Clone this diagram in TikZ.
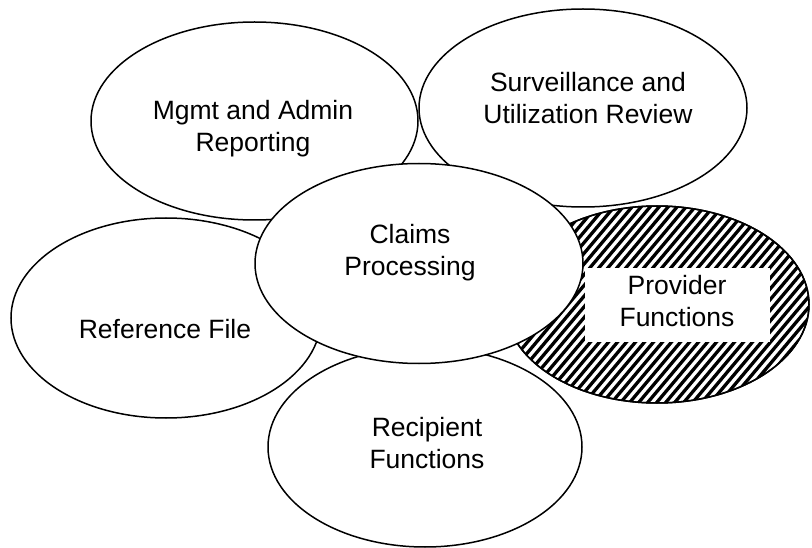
\documentclass[tikz,border=0pt]{standalone}
\usepackage{fontspec}
\setmainfont{Liberation Sans}
\usetikzlibrary{shapes.geometric}
\begin{document}
\begin{tikzpicture}[x=1pt,y=-1pt,
  bubble/.style={ellipse, draw=black, line width=1.5pt, fill=white, inner sep=0pt},
  lbl/.style={align=center, font=\fontsize{26.5}{32}\selectfont, inner sep=0pt},
  hatch/.style={line width=3.3pt, black},
  whitebox/.style={fill=white, draw=none, inner sep=0pt}]
\useasboundingbox (0,0) rectangle (812,548);
% background bubbles
\node[bubble, minimum width=327pt, minimum height=198pt] (mgmt) at (254.5,121) {};
\node[bubble, minimum width=328pt, minimum height=198pt] (surv) at (583,108) {};
\node[bubble, minimum width=310pt, minimum height=200pt] (ref) at (166,318) {};
% hatched provider bubble
\node[bubble, minimum width=304pt, minimum height=197pt] (prov) at (657,304.5) {};
\begin{scope}
  \clip (prov.center) ellipse [x radius=152pt, y radius=98.5pt];
  \foreach \i in {0,...,56} \draw[hatch] ({318+9*\i},420) -- ++(250,-297.5);
\end{scope}
\draw[line width=1.5pt] (prov.center) ellipse [x radius=152pt, y radius=98.5pt];
\node[whitebox, minimum width=185pt, minimum height=74pt] (provbox) at (677.5,305) {};
% front bubbles
\node[bubble, minimum width=314pt, minimum height=200pt] (recip) at (425,447) {};
\node[bubble, minimum width=328pt, minimum height=200pt] (claims) at (419,263.5) {};
% labels
\node[lbl] (mgmtt) at (253,129) {Mgmt and Admin\\Reporting};
\node[lbl] (survt) at (588,98) {Surveillance and\\Utilization Review};
\node[lbl] (claimst) at (410,252.5) {Claims\\Processing};
\node[lbl] (reft) at (165,329) {Reference File};
\node[lbl] (provt) at (677,301) {Provider\\Functions};
\node[lbl] (recipt) at (427,443) {Recipient\\Functions};
\end{tikzpicture}
\end{document}
